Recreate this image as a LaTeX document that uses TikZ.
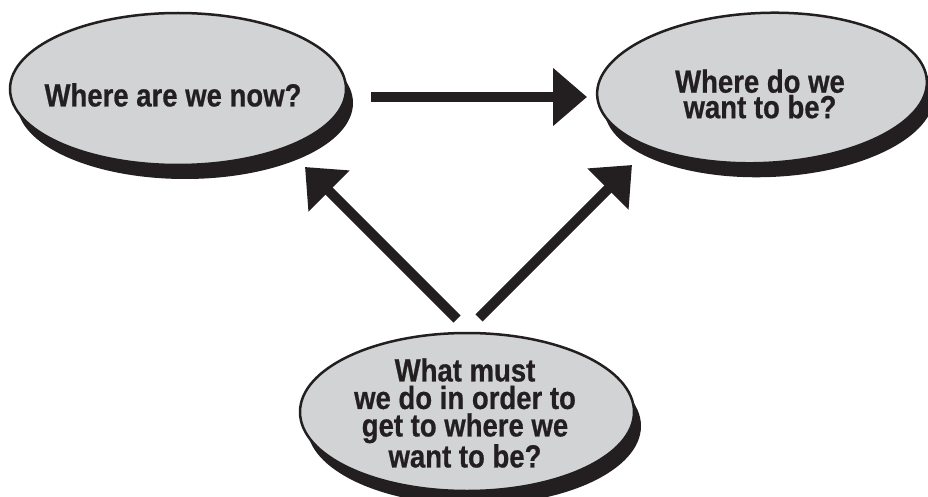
\documentclass[tikz,border=0pt]{standalone}
\usepackage{fontspec}
\newfontfamily\lblfont{Liberation Sans}[FakeStretch=0.86,FakeBold=0.6]
\usetikzlibrary{shapes.geometric,shadows,arrows.meta}
\definecolor{ink}{HTML}{231F20}
\definecolor{bubblefill}{HTML}{D1D3D4}
\begin{document}
\begin{tikzpicture}[x=1pt,y=-1pt,
  bubble/.style={ellipse, draw=ink, line width=2.5pt, fill=bubblefill, inner sep=0pt,
    drop shadow={shadow xshift=7pt, shadow yshift=-14pt, fill=ink, opacity=1}},
  qtext/.style={font=\lblfont\bfseries\fontsize{32}{25.5}\selectfont, text=ink, align=center, inner sep=0pt},
  bigarrow/.style={draw=ink, line width=10pt, -{Triangle[length=34pt,width=56pt]}}]
\useasboundingbox (0,0) rectangle (928,497);
\clip (0,0) rectangle (928,497);

% bubbles
\node[bubble, minimum width=336pt, minimum height=152pt] (now) at (178,89) {};
\node[bubble, minimum width=330pt, minimum height=150pt, rotate=2.5] (want) at (762,88) {};
\node[bubble, minimum width=334pt, minimum height=158pt] (must) at (467,412) {};

% texts
\node[qtext] (nowtxt) at (173,95) {Where are we now?};
\node[qtext] (wanttxt) at (760,94) {Where do we\\ want to be?};
\node[qtext, font=\lblfont\bfseries\fontsize{32}{27.5}\selectfont] (musttxt) at (465,413)
  {What must\\we do in order to\\get to where we\\want to be?};

% arrows
\coordinate (h1) at (371,97);  \coordinate (h2) at (587,97);
\coordinate (l1) at (457,319); \coordinate (l2) at (305,167);
\coordinate (r1) at (479,318); \coordinate (r2) at (632,165);
\draw[bigarrow] (h1) -- (h2);
\draw[bigarrow] (l1) -- (l2);
\draw[bigarrow] (r1) -- (r2);
\end{tikzpicture}
\end{document}
